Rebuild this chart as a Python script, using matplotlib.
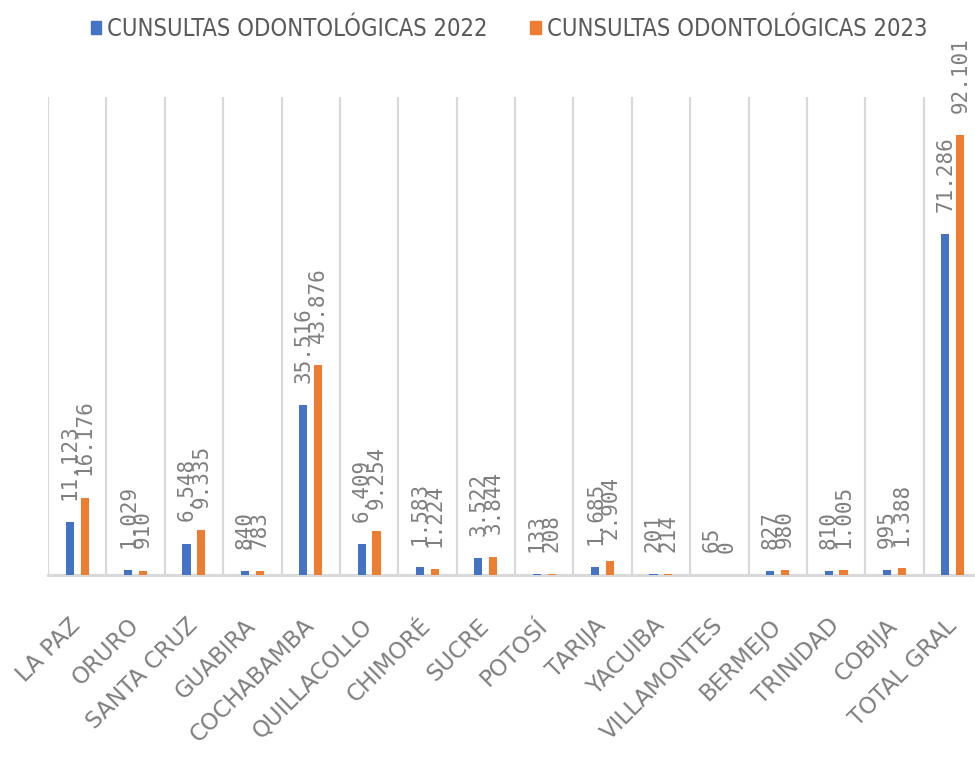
import numpy as np
import matplotlib
matplotlib.use("Agg")
import matplotlib.pyplot as plt
import matplotlib.patches as mpatches
from matplotlib import font_manager

# ── Data ─────────────────────────────────────────────────────────
categories = ["LA PAZ", "ORURO", "SANTA CRUZ", "GUABIRA", "COCHABAMBA",
              "QUILLACOLLO", "CHIMORÉ", "SUCRE", "POTOSÍ", "TARIJA",
              "YACUIBA", "VILLAMONTES", "BERMEJO", "TRINIDAD", "COBIJA",
              "TOTAL GRAL"]
consultas_2022 = [11123, 1029, 6548, 840, 35516, 6409, 1583, 3522, 133,
                  1685, 201, 65, 827, 810, 995, 71286]
consultas_2023 = [16176, 910, 9335, 783, 43876, 9254, 1224, 3844, 208,
                  2904, 214, 0, 980, 1005, 1388, 92101]
series_labels = ["CUNSULTAS ODONTOLÓGICAS 2022", "CUNSULTAS ODONTOLÓGICAS 2023"]

# ── Style ────────────────────────────────────────────────────────
BLUE = "#4472C4"
ORANGE = "#ED7D31"
GRID = "#D9D9D9"
TEXT = "#7F7F7F"
LEGEND_TEXT = "#595959"

# look for a condensed / narrow face for the legend
legend_font = None
for key in ("LiberationSansNarrow-Regular", "DejaVuSansCondensed.", "RobotoCondensed-Regular",
            "OpenSans_Condensed-Regular", "OpenSansCondensed", "Condensed", "Narrow"):
    for f in font_manager.fontManager.ttflist:
        if key.lower() in f.fname.lower() and "bold" not in f.fname.lower() \
                and "oblique" not in f.fname.lower() and "italic" not in f.fname.lower():
            legend_font = f.fname
            break
    if legend_font:
        break
if legend_font:
    legend_prop = font_manager.FontProperties(fname=legend_font, size=17)
else:
    legend_prop = font_manager.FontProperties(family="DejaVu Sans", size=14)


def fmt(v):
    return f"{v:,}".replace(",", ".")


fig = plt.figure(figsize=(9.75, 7.62), dpi=100)
ax = fig.add_axes([48 / 975, 187 / 762, 934 / 975, 478 / 762])

x = np.arange(len(categories))
w = 0.14
off = 0.128
b1 = ax.bar(x - off, consultas_2022, w, color=BLUE, zorder=3)
b2 = ax.bar(x + off, consultas_2023, w, color=ORANGE, zorder=3)

for bars in (b1, b2):
    for bar in bars:
        h = bar.get_height()
        ax.annotate(fmt(int(h)), (bar.get_x() + bar.get_width() / 2, h),
                    xytext=(0, 16), textcoords="offset points",
                    rotation=90, ha="center", va="bottom",
                    fontsize=15, color=TEXT, family="DejaVu Sans Mono",
                    annotation_clip=False, zorder=4)

ax.set_xlim(-0.5, len(categories) - 0.5)
ax.set_ylim(0, 100000)
ax.set_yticks([])
for b in np.arange(-0.5, len(categories), 1.0):
    ax.axvline(b, color=GRID, linewidth=1.6, zorder=1)

for side in ("top", "right", "left"):
    ax.spines[side].set_visible(False)
ax.spines["bottom"].set_color(GRID)
ax.spines["bottom"].set_linewidth(2.2)
ax.spines["bottom"].set_zorder(2)

ax.set_xticks(x)
ax.set_xticklabels(categories, rotation=45, ha="right", va="center",
                   rotation_mode="anchor", fontsize=16.5, color=TEXT)
ax.tick_params(axis="x", length=0, pad=34)

handles = [mpatches.Patch(color=BLUE, label=series_labels[0]),
           mpatches.Patch(color=ORANGE, label=series_labels[1])]
leg = fig.legend(handles=handles, loc="upper center", bbox_to_anchor=(0.522, 1.006),
                 ncol=2, frameon=False, handlelength=0.45, handleheight=0.45,
                 handletextpad=0.25, columnspacing=1.8, prop=legend_prop)
for t in leg.get_texts():
    t.set_color(LEGEND_TEXT)

fig.savefig("out.png", dpi=100)
